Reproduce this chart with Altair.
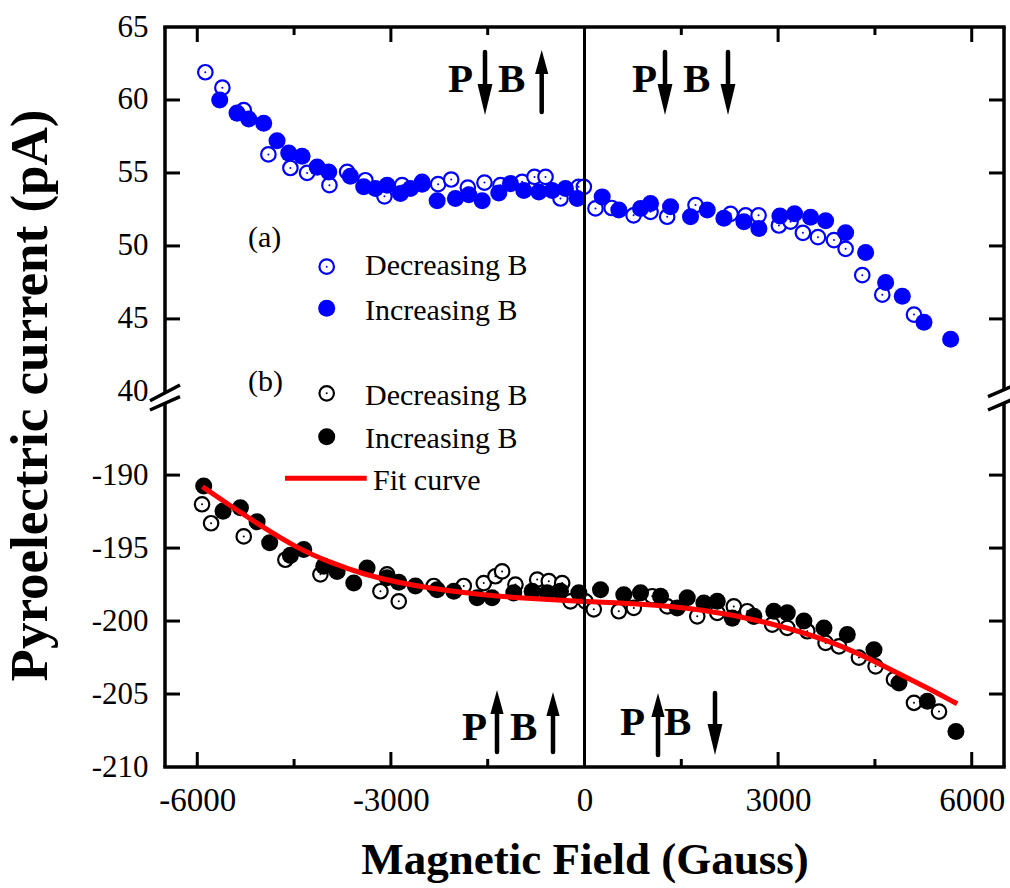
import altair as alt
import pandas as pd

# ---------------- data ----------------
# (a) upper panel, blue
top_dec_x = [-5875, -5611, -5280, -4898, -4557, -4298, -3952, -3678, -3395, -3100, -2826, -2516,
             -2268, -2066, -1808, -1550, -1302, -966, -775, -604, -372, -93, -10, 170, 420, 760,
             1023, 1281, 1720, 2263, 2496, 2697, 3012, 3193, 3384, 3617, 3865, 4046, 4304, 4614, 5105]
top_dec_y = [61.9, 60.84, 59.3, 56.27, 55.34, 55.0, 54.16, 55.07, 54.5, 53.4, 54.16, 54.39,
             54.23, 54.55, 54.0, 54.34, 54.16, 54.39, 54.73, 54.73, 53.25, 54.05, 54.05, 52.57, 52.6, 52.1,
             52.34, 52.0, 52.8, 52.2, 52.1, 52.1, 51.4, 51.66, 50.9, 50.6, 50.4, 49.8, 48.0, 46.66, 45.3]
top_inc_x = [-5652, -5384, -5203, -4971, -4764, -4583, -4376, -4143, -3963, -3627, -3421, -3240,
             -3058, -2852, -2697, -2516, -2283, -2000, -1793, -1586, -1328, -1147, -941, -708, -501,
             -295, -113, 274, 532, 868, 1023, 1333, 1643, 1902, 2160, 2470, 2702, 3028, 3255, 3503,
             3736, 4046, 4356, 4666, 4924, 5260, 5673]
top_inc_y = [60.0, 59.1, 58.7, 58.4, 57.2, 56.36, 56.14, 55.4, 55.07, 54.77, 54.05, 53.94,
             54.16, 53.6, 53.94, 54.23, 53.09, 53.25, 53.5, 53.09, 53.63, 54.27, 53.8, 53.7, 53.8,
             53.94, 53.25, 53.36, 52.46, 52.57, 52.91, 52.68, 52.0, 52.46, 51.9, 51.66, 51.2, 52.05, 52.2, 51.96,
             51.73, 50.9, 49.55, 47.5, 46.55, 44.77, 43.6]

# (b) lower panel, black
bot_dec_x = [-5926, -5786, -5280, -4635, -4092, -3162, -3059, -2878, -2336, -1871, -1561, -1380,
             -1276, -1070, -733, -553, -346, -217, 15, 144, 532, 764, 1049, 1282, 1747, 2057, 2314,
             2521, 2909, 3142, 3452, 3736, 3943, 4252, 4510, 4795, 5105, 5493]
bot_dec_y = [-192.0, -193.3, -194.2, -195.8, -196.8, -197.96, -196.8, -198.65, -197.6, -197.6, -197.4, -196.93,
             -196.6, -197.5, -197.16, -197.27, -197.4, -198.65, -198.65, -199.2, -199.33, -199.1, -198.3, -199.0,
             -199.68, -199.44, -199.0, -199.33, -200.25, -200.47, -200.7, -201.5, -201.74, -202.5, -203.1,
             -204.0, -205.6, -206.2]
bot_inc_x = [-5900, -5600, -5332, -5073, -4878, -4557, -4350, -4040, -3833, -3575, -3369, -3059,
             -2878, -2620, -2283, -2025, -1664, -1432, -1096, -811, -578, -372, -88, 248, 609, 868,
             1178, 1437, 1592, 1850, 2057, 2290, 2624, 2934, 3142, 3400, 3710, 4072, 4485, 4873, 5312, 5755]
bot_inc_y = [-190.75, -192.47, -192.24, -193.2, -194.64, -195.5, -195.1, -196.25, -196.6, -197.4, -196.36, -197.04,
             -197.34, -197.6, -197.85, -197.96, -198.4, -198.4, -198.07, -197.96, -198.07, -197.96, -198.07,
             -197.85, -198.2, -198.07, -198.3, -199.1, -198.4, -198.76, -198.65, -199.8, -199.68, -199.33,
             -199.44, -200.0, -200.47, -200.93, -201.96, -204.25, -205.5, -207.57]
fit_x = [-5920, -5487, -4971, -4453, -3937, -3420, -2904, -2387, -1871, -1354, -837, -217, 817,
         1850, 2883, 3916, 4692, 5363, 5775]
fit_y = [-190.8, -192.1, -193.6, -195.0, -196.0, -196.8, -197.35, -197.75, -198.05, -198.3, -198.46,
         -198.62, -198.8, -199.2, -200.1, -201.5, -203.2, -204.7, -205.67]

x_major = [-6000, -3000, 0, 3000, 6000]
x_minor = [-4500, -1500, 1500, 4500]
y_top_ticks = [65, 60, 55, 50, 45, 40]
y_bot_ticks = [-190, -195, -200, -205, -210]

# ---------------- broken axis mapping ----------------
OFFSET = 224.3          # upper panel values are drawn shifted down by this amount
Y_MIN, Y_MAX = -210, 65 - OFFSET
W, H = 839, 740

xscale = alt.Scale(domain=[-6500, 6500], nice=False, zero=False)
yscale = alt.Scale(domain=[Y_MIN, Y_MAX], nice=False, zero=False)

FONT = "Liberation Serif"
BLUE = "#0000ff"

def df(xs, ys, shift=0.0):
    return pd.DataFrame({"x": xs, "y": [v - shift for v in ys]})

y_tick_vals = [v - OFFSET for v in y_top_ticks] + y_bot_ticks

xaxis = alt.Axis(values=x_major, labelExpr="toString(datum.value)", ticks=False, domain=False,
                 grid=False, labelFont=FONT, labelFontSize=33, labelColor="black",
                 labelBaseline="alphabetic", labelPadding=43, labelFlush=False, labelOverlap=False,
                 title="Magnetic Field (Gauss)", titleFont=FONT, titleFontSize=45, titleFontWeight="bold",
                 titleColor="black", titleX=W / 2, titleY=106, titleAlign="center",
                 titleBaseline="alphabetic", titleAnchor="middle")
yaxis = alt.Axis(values=y_tick_vals,
                 labelExpr="datum.value > -187 ? toString(round(datum.value + %s)) : toString(round(datum.value))" % OFFSET,
                 ticks=False, domain=False, grid=False, labelFont=FONT, labelFontSize=31,
                 labelColor="black", labelPadding=17, labelFlush=False, labelOverlap=False,
                 title="Pyroelectric current (pA)", titleFont=FONT, titleFontSize=53,
                 titleFontWeight="bold", titleColor="black", titleAngle=-90, titleX=-119, titleY=368,
                 titleAlign="center", titleBaseline="alphabetic")

def X(field):
    return alt.X(field, scale=xscale, axis=xaxis)

def Y(field):
    return alt.Y(field, scale=yscale, axis=yaxis)

dummy = pd.DataFrame({"d": [0]})

def seg(x1, y1, x2, y2, w=3.5, color="black", cap="butt"):
    return alt.Chart(dummy).mark_rule(color=color, strokeWidth=w, strokeCap=cap).encode(
        x=alt.value(x1), y=alt.value(y1), x2=alt.value(x2), y2=alt.value(y2))

def txt(s, x, y, size=30, bold=False, align="left"):
    return alt.Chart(dummy).mark_text(text=s, font=FONT, fontSize=size, fontWeight="bold" if bold else "normal",
                                      align=align, baseline="alphabetic", color="black").encode(
        x=alt.value(x), y=alt.value(y))

DOWN_HEAD = "M-0.48,-1L0.48,-1L0,1Z"
UP_HEAD = "M-0.55,1L0.55,1L0,-1Z"

def arrow(x, ytop, ybot, down=True):
    if down:
        hh = 31
        shaft = seg(x, ytop, x, ybot - hh + 3, w=4.5, cap="round")
        head = alt.Chart(dummy).mark_point(shape=DOWN_HEAD, filled=True, color="black", opacity=1,
                                           size=hh * hh, strokeWidth=0).encode(
            x=alt.value(x), y=alt.value(ybot - hh / 2))
    else:
        hh = 24
        shaft = seg(x, ytop + hh - 3, x, ybot, w=4.5, cap="round")
        head = alt.Chart(dummy).mark_point(shape=UP_HEAD, filled=True, color="black", opacity=1,
                                           size=hh * hh, strokeWidth=0).encode(
            x=alt.value(x), y=alt.value(ytop + hh / 2))
    return [shaft, head]

OPEN_SIZE = 210
FILL_SIZE = 290

def open_pts(data, color):
    ring = alt.Chart(data).mark_point(shape="circle", filled=False, fill="white", fillOpacity=1,
                                      stroke=color, strokeWidth=2.2, opacity=1, size=OPEN_SIZE).encode(
        x=X("x:Q"), y=Y("y:Q"))
    dot = alt.Chart(data).mark_circle(color=color, size=4, opacity=1).encode(x=X("x:Q"), y=Y("y:Q"))
    return [ring, dot]

def fill_pts(data, color):
    return alt.Chart(data).mark_circle(color=color, size=FILL_SIZE, opacity=1).encode(
        x=X("x:Q"), y=Y("y:Q"))

layers = []
# data
layers += open_pts(df(top_dec_x, top_dec_y, OFFSET), BLUE)
layers.append(fill_pts(df(top_inc_x, top_inc_y, OFFSET), BLUE))
layers += open_pts(df(bot_dec_x, bot_dec_y), "black")
layers.append(fill_pts(df(bot_inc_x, bot_inc_y), "black"))
layers.append(alt.Chart(df(fit_x, fit_y)).mark_line(color="#ff0000", strokeWidth=5, interpolate="basis").encode(
    x=X("x:Q"), y=Y("y:Q")))

# zero line
layers.append(alt.Chart(pd.DataFrame({"z": [0]})).mark_rule(color="black", strokeWidth=3).encode(
    x=X("z:Q"), y=alt.value(0), y2=alt.value(H)))

# ticks (inward, on all four sides)
def xticks(vals, length):
    d = pd.DataFrame({"t": vals})
    bot = alt.Chart(d).mark_rule(color="black", strokeWidth=3).encode(
        x=X("t:Q"), y=alt.value(H), y2=alt.value(H - length))
    top = alt.Chart(d).mark_rule(color="black", strokeWidth=3).encode(
        x=X("t:Q"), y=alt.value(0), y2=alt.value(length))
    return [bot, top]

def yticks(vals, length):
    d = pd.DataFrame({"t": vals})
    left = alt.Chart(d).mark_rule(color="black", strokeWidth=3).encode(
        y=Y("t:Q"), x=alt.value(0), x2=alt.value(length))
    right = alt.Chart(d).mark_rule(color="black", strokeWidth=3).encode(
        y=Y("t:Q"), x=alt.value(W), x2=alt.value(W - length))
    return [left, right]

layers += xticks(x_major, 15)
layers += xticks(x_minor, 8)
layers += yticks([v - OFFSET for v in y_top_ticks[1:-1]] + y_bot_ticks[:-1], 15)

# frame with axis break
layers += [
    seg(-1.75, 0, W + 1.75, 0),
    seg(-1.75, H, W + 1.75, H),
    seg(0, 0, 0, 366),
    seg(0, 376, 0, H),
    seg(W, 0, W, 363),
    seg(W, 376, W, H),
    seg(-15, 373.7, 15, 358, w=3.5),
    seg(-15, 383, 15, 369.7, w=3.5),
    seg(823, 369.7, 851, 357.6, w=3.5),
    seg(823, 383, 851, 370.9, w=3.5),
]

# P / B annotations
PB = 41
layers += [txt("P", 283, 65, PB, True), txt("B", 333, 65, PB, True)]
layers += arrow(320, 25, 88, down=True) + arrow(376.7, 23, 85, down=False)
layers += [txt("P", 467, 65, PB, True), txt("B", 518, 65, PB, True)]
layers += arrow(500, 25, 88, down=True) + arrow(563, 25, 88, down=True)
layers += [txt("P", 297, 713, PB, True), txt("B", 345, 713, PB, True)]
layers += arrow(332, 663, 725, down=False) + arrow(388, 665, 725, down=False)
layers += [txt("P", 455, 708, PB, True), txt("B", 499, 708, PB, True)]
layers += arrow(493, 666, 728, down=False) + arrow(550, 666, 728, down=True)

# legend
def leg_open(x, y, color):
    ring = alt.Chart(dummy).mark_point(shape="circle", filled=False, fill="white", fillOpacity=1,
                                       stroke=color, strokeWidth=2.2, opacity=1, size=OPEN_SIZE).encode(
        x=alt.value(x), y=alt.value(y))
    dot = alt.Chart(dummy).mark_circle(color=color, size=4, opacity=1).encode(x=alt.value(x), y=alt.value(y))
    return [ring, dot]

def leg_fill(x, y, color):
    return alt.Chart(dummy).mark_circle(color=color, size=FILL_SIZE, opacity=1).encode(
        x=alt.value(x), y=alt.value(y))

layers += [txt("(a)", 83, 220)]
layers += leg_open(161.7, 239.7, BLUE) + [txt("Decreasing B", 200, 248)]
layers += [leg_fill(161.7, 281.3, BLUE), txt("Increasing B", 200, 293)]
layers += [txt("(b)", 83, 364)]
layers += leg_open(161.7, 366.3, "black") + [txt("Decreasing B", 200, 378)]
layers += [leg_fill(161.7, 409.7, "black"), txt("Increasing B", 200, 421)]
layers += [seg(120, 451.3, 201.7, 451.3, w=5, color="#ff0000"), txt("Fit curve", 208, 463)]

chart = alt.layer(*layers).properties(
    width=W, height=H,
    autosize=alt.AutoSizeParams(type="none"),
    padding={"left": 165, "top": 27, "right": 6, "bottom": 121},
    background="white",
).configure_view(strokeWidth=0)

chart.save("out.html", embed_options={"renderer": "svg", "actions": False})
